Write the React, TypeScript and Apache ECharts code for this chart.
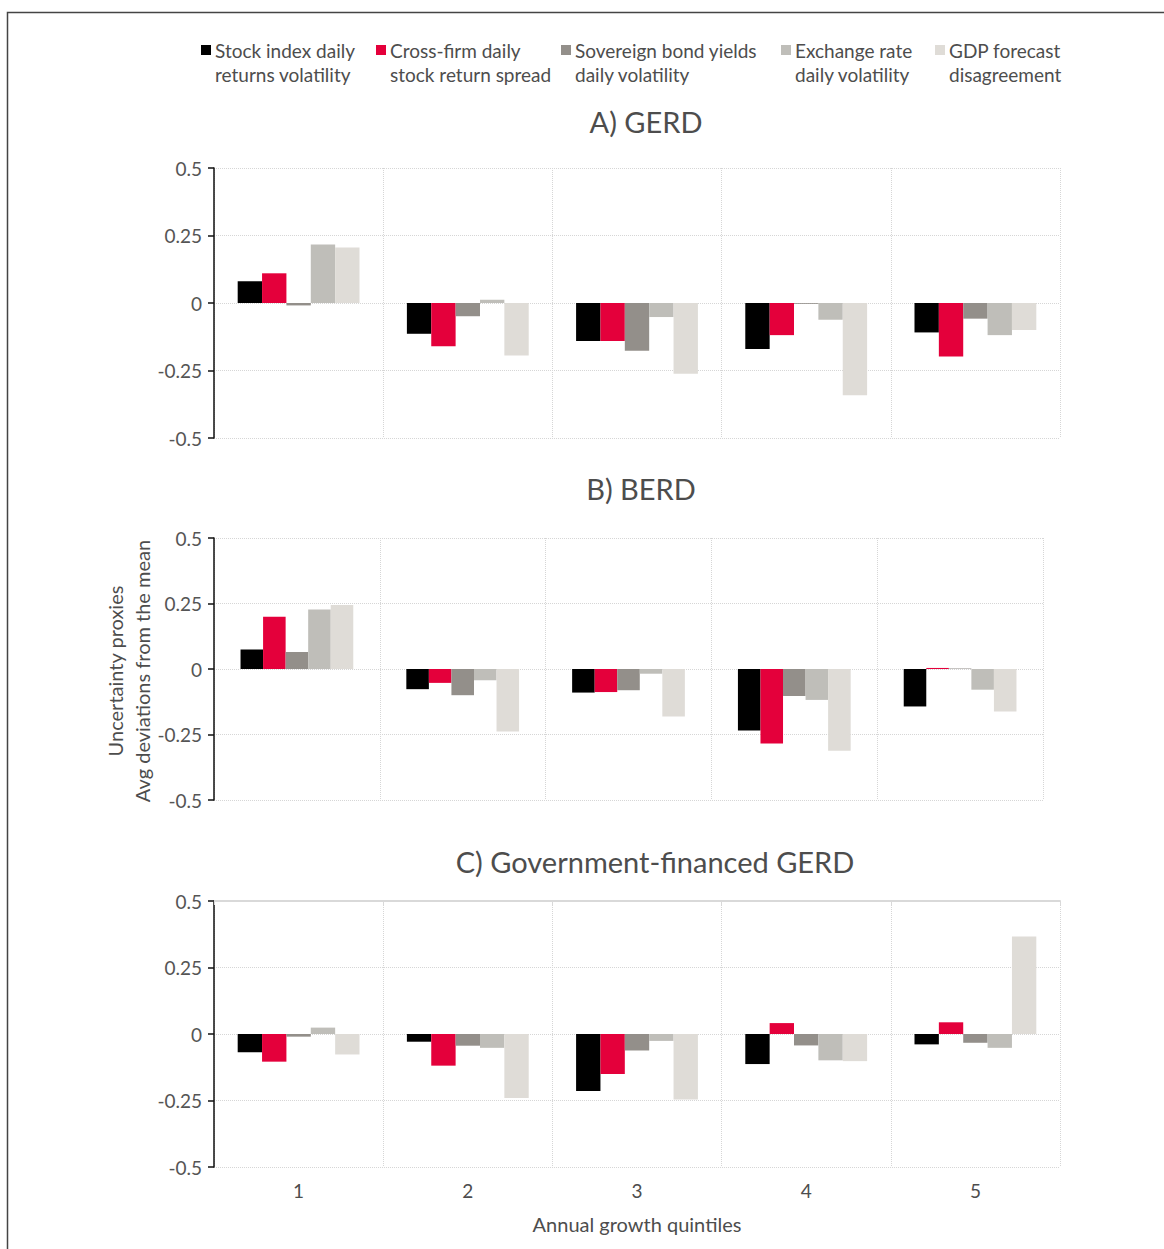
import React, { useEffect, useRef } from "react";
import * as echarts from "echarts";

const categories = ["1", "2", "3", "4", "5"];
const legendLabels = [
  "Stock index daily\nreturns volatility",
  "Cross-firm daily\nstock return spread",
  "Sovereign bond yields\ndaily volatility",
  "Exchange rate\ndaily volatility",
  "GDP forecast\ndisagreement",
];
const panelTitles = ["A) GERD", "B) BERD", "C) Government-financed GERD"];
const yTickLabels = ["-0.5", "-0.25", "0", "0.25", "0.5"];
const xAxisTitle = "Annual growth quintiles";
const yAxisTitle = "Uncertainty proxies\nAvg deviations from the mean";

// A) GERD
const gerdStock = [0.081, -0.114, -0.141, -0.17, -0.109];
const gerdCross = [0.11, -0.16, -0.141, -0.119, -0.198];
const gerdBond = [-0.009, -0.049, -0.177, -0.003, -0.058];
const gerdFx = [0.217, 0.012, -0.052, -0.062, -0.119];
const gerdGdp = [0.206, -0.194, -0.262, -0.342, -0.1];

// B) BERD
const berdStock = [0.074, -0.077, -0.09, -0.235, -0.143];
const berdCross = [0.199, -0.053, -0.088, -0.284, 0.004];
const berdBond = [0.065, -0.1, -0.081, -0.103, 0.002];
const berdFx = [0.227, -0.043, -0.018, -0.118, -0.079];
const berdGdp = [0.244, -0.239, -0.181, -0.312, -0.162];

// C) Government-financed GERD
const govStock = [-0.069, -0.029, -0.214, -0.113, -0.039];
const govCross = [-0.104, -0.119, -0.15, 0.041, 0.044];
const govBond = [-0.01, -0.044, -0.062, -0.043, -0.033];
const govFx = [0.024, -0.052, -0.026, -0.099, -0.052];
const govGdp = [-0.077, -0.241, -0.246, -0.102, 0.367];

const panels = [
  [gerdStock, gerdCross, gerdBond, gerdFx, gerdGdp],
  [berdStock, berdCross, berdBond, berdFx, berdGdp],
  [govStock, govCross, govBond, govFx, govGdp],
];

const colors = ["#000000", "#E4003B", "#938F8A", "#BFBEB9", "#DFDCD7"];
const FONT = "Lato";
const TEXT = "#4d4d4d";

export default function App() {
  const ref = useRef<HTMLDivElement>(null);
  useEffect(() => {
    if (!ref.current) return;
    const chart = echarts.init(ref.current, null, { renderer: "svg" });

    const grids = [
      { left: 214, top: 168, width: 846, height: 270 },
      { left: 214, top: 538, width: 829, height: 262 },
      { left: 214, top: 901, width: 846, height: 266 },
    ];

    const xAxes: any[] = grids.map((_, i) => ({
      type: "category",
      gridIndex: i,
      data: categories,
      axisLine: { show: false },
      axisTick: { show: false },
      axisLabel: { show: i === 2, margin: 14, fontSize: 19, color: TEXT, fontFamily: FONT },
      splitLine: { show: true, lineStyle: { type: "dotted", color: "#d6d6d6", width: 1 } },
      name: i === 2 ? xAxisTitle : "",
      nameLocation: "middle",
      nameGap: 47,
      nameTextStyle: { fontSize: 20, color: TEXT, fontFamily: FONT },
    }));
    xAxes.push({
      type: "category",
      gridIndex: 2,
      data: categories,
      position: "top",
      axisLine: { show: true, onZero: true, lineStyle: { color: "#d9d9d9", width: 2 } },
      axisTick: { show: true, inside: true, length: 4, lineStyle: { color: "#d9d9d9" } },
      axisLabel: { show: false },
      splitLine: { show: false },
    });

    const yAxes = grids.map((_, i) => ({
      type: "value",
      gridIndex: i,
      min: -0.5,
      max: 0.5,
      interval: 0.25,
      axisLine: { show: true, onZero: false, lineStyle: { color: "#111", width: 1.5 } },
      axisTick: { show: true, length: 6, lineStyle: { color: "#111", width: 1.5 } },
      axisLabel: {
        margin: 12,
        fontSize: 19,
        color: "#555",
        fontFamily: FONT,
        formatter: (v: number) => {
          const idx = Math.round((v + 0.5) / 0.25);
          return yTickLabels[idx] ?? String(v);
        },
      },
      splitLine: { show: true, lineStyle: { type: "dotted", color: "#d6d6d6", width: 1 } },
    }));

    const series: any[] = [];
    panels.forEach((panel, p) => {
      panel.forEach((vals, k) => {
        series.push({
          type: "bar",
          name: legendLabels[k],
          xAxisIndex: p,
          yAxisIndex: p,
          data: vals,
          barGap: "0%",
          barCategoryGap: p === 1 ? "32%" : "28%",
          itemStyle: { color: colors[k] },
        });
      });
    });

    const legendX = [201, 376, 561, 781, 935];
    const graphics: any[] = [
      {
        type: "polyline",
        shape: { points: [[7.5, 1260], [7.5, 12.5], [1175, 12.5]] },
        style: { stroke: "#444", lineWidth: 1.5, fill: null },
        silent: true,
      },
    ];
    legendLabels.forEach((lab, k) => {
      graphics.push({
        type: "rect",
        shape: { x: legendX[k], y: 45, width: 10, height: 10 },
        style: { fill: colors[k] },
      });
      graphics.push({
        type: "text",
        x: legendX[k] + 14,
        y: 38,
        style: {
          text: lab,
          fontSize: 19,
          lineHeight: 24,
          fontFamily: FONT,
          fill: TEXT,
          textAlign: "left",
          textVerticalAlign: "top",
        },
      });
    });
    const titlePos = [
      [646, 121],
      [641, 488],
      [655, 861],
    ];
    panelTitles.forEach((t, i) => {
      graphics.push({
        type: "text",
        x: titlePos[i][0],
        y: titlePos[i][1],
        style: {
          text: t,
          fontSize: 29,
          fontFamily: FONT,
          fill: TEXT,
          textAlign: "center",
          textVerticalAlign: "middle",
        },
      });
    });
    graphics.push({
      type: "text",
      x: 128,
      y: 671,
      rotation: Math.PI / 2,
      style: {
        text: yAxisTitle,
        fontSize: 20,
        lineHeight: 27,
        fontFamily: FONT,
        fill: TEXT,
        textAlign: "center",
        textVerticalAlign: "middle",
      },
    });

    chart.setOption({
      animation: false,
      textStyle: { fontFamily: FONT },
      grid: grids,
      xAxis: xAxes,
      yAxis: yAxes,
      series,
      graphic: graphics,
    });
    return () => chart.dispose();
  }, []);
  return (
    <div
      ref={ref}
      style={{ position: "absolute", left: 0, top: 0, width: 1164, height: 1249, background: "#fff" }}
    />
  );
}
